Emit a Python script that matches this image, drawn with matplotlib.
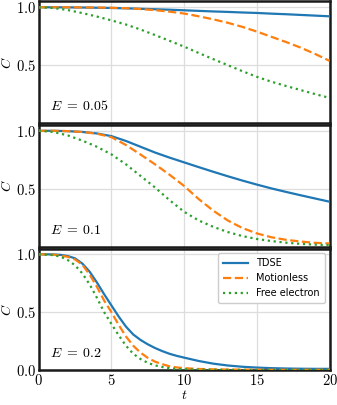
import matplotlib
matplotlib.use("Agg")
import matplotlib.pyplot as plt
from matplotlib.ticker import FixedLocator, FuncFormatter

plt.rcParams['mathtext.fontset'] = 'cm'

# ---------------- data ----------------
t_a = [0, 1, 2, 3, 4, 5, 6, 7, 8, 9, 10, 11, 12, 13, 14, 15, 16, 17, 18, 19, 20]

# E = 0.05
tdse_005 = [1.0, 1.0, 0.999, 0.998, 0.996, 0.994, 0.991, 0.987, 0.983, 0.979, 0.974,
            0.969, 0.964, 0.960, 0.955, 0.951, 0.945, 0.940, 0.934, 0.928, 0.922]
motion_005 = [1.0, 1.0, 1.0, 0.999, 0.998, 0.996, 0.992, 0.985, 0.975, 0.962, 0.946,
              0.922, 0.896, 0.866, 0.831, 0.790, 0.745, 0.700, 0.652, 0.597, 0.537]
free_005 = [1.0, 0.994, 0.976, 0.950, 0.920, 0.887, 0.851, 0.808, 0.76, 0.71, 0.66,
            0.605, 0.552, 0.50, 0.448, 0.399, 0.357, 0.32, 0.285, 0.25, 0.217]

# E = 0.1
tdse_01 = [1.0, 1.0, 0.997, 0.99, 0.977, 0.954, 0.912, 0.862, 0.812, 0.768, 0.727,
           0.686, 0.646, 0.607, 0.57, 0.535, 0.502, 0.472, 0.443, 0.415, 0.387]
motion_01 = [1.0, 1.0, 0.997, 0.99, 0.975, 0.945, 0.877, 0.795, 0.71, 0.62, 0.523,
             0.41, 0.31, 0.225, 0.16, 0.113, 0.08, 0.058, 0.043, 0.032, 0.026]
free_01 = [1.0, 0.99, 0.96, 0.915, 0.862, 0.796, 0.71, 0.61, 0.51, 0.40, 0.30,
           0.225, 0.17, 0.125, 0.09, 0.065, 0.047, 0.033, 0.023, 0.016, 0.012]

# E = 0.2
t_b = [0, 1, 1.5, 2, 2.5, 3, 3.5, 4, 4.5, 5, 5.5, 6, 6.5, 7, 7.5, 8, 8.5, 9, 9.5, 10,
       11, 12, 13, 14, 15, 16, 17, 18, 19, 20]
tdse_02 = [1.0, 0.999, 0.995, 0.985, 0.965, 0.92, 0.85, 0.757, 0.655, 0.558, 0.462, 0.375,
           0.307, 0.26, 0.222, 0.19, 0.163, 0.14, 0.122, 0.107, 0.078, 0.055, 0.039,
           0.028, 0.021, 0.016, 0.013, 0.011, 0.01, 0.01]
motion_02 = [1.0, 0.997, 0.99, 0.978, 0.955, 0.91, 0.825, 0.72, 0.60, 0.50, 0.39, 0.29,
             0.21, 0.15, 0.105, 0.072, 0.05, 0.032, 0.022, 0.016, 0.009, 0.006, 0.004,
             0.003, 0.003, 0.002, 0.002, 0.002, 0.002, 0.002]
free_02 = [1.0, 0.993, 0.98, 0.95, 0.905, 0.835, 0.74, 0.625, 0.50, 0.398, 0.30, 0.21,
           0.14, 0.095, 0.062, 0.04, 0.026, 0.015, 0.009, 0.006, 0.003, 0.002, 0.001,
           0.001, 0.0, 0.0, 0.0, 0.0, 0.0, 0.0]

field_labels = [r'$E\;=\;0.05$', r'$E\;=\;0.1$', r'$E\;=\;0.2$']
series_names = ['TDSE', 'Motionless', 'Free electron']
x_ticks = [0, 5, 10, 15, 20]

panels = [
    (t_a, tdse_005, motion_005, free_005),
    (t_a, tdse_01, motion_01, free_01),
    (t_b, tdse_02, motion_02, free_02),
]

# ---------------- plot ----------------
fig, axes = plt.subplots(3, 1, figsize=(3.37, 4.05), dpi=100, sharex=True)
fig.subplots_adjust(left=0.1148, right=0.978, bottom=0.0864, top=0.9963, hspace=0.0165)

colors = ['#1f77b4', '#ff7f0e', '#2ca02c']
styles = ['-', '--', ':']

for i, (ax, (t, a, b, c), lab) in enumerate(zip(axes, panels, field_labels)):
    for ys, col, ls, name in zip((a, b, c), colors, styles, series_names):
        ax.plot(t, ys, color=col, ls=ls, lw=1.6, label=name, zorder=3)
    ax.set_xlim(0, 20)
    ax.set_ylim(0, 1.05)
    if i < 2:
        ax.yaxis.set_major_locator(FixedLocator([0.5, 1.0]))
    else:
        ax.yaxis.set_major_locator(FixedLocator([0.0, 0.5, 1.0]))
    ax.xaxis.set_major_locator(FixedLocator(x_ticks))
    fmt_y = FuncFormatter(lambda v, p: f'${v:.1f}$')
    fmt_x = FuncFormatter(lambda v, p: f'${v:.0f}$')
    ax.yaxis.set_major_formatter(fmt_y)
    ax.xaxis.set_major_formatter(fmt_x)
    ax.tick_params(axis='both', length=0, labelsize=10.5, pad=2)
    ax.grid(True, color='#dddddd', lw=0.9, zorder=0)
    ax.set_axisbelow(True)
    for sp in ax.spines.values():
        sp.set_linewidth(1.8)
        sp.set_color('#1a1a1a')
    ax.set_ylabel('$C$', fontsize=10, labelpad=1)
    ax.text(0.04, 0.08, lab, transform=ax.transAxes, fontsize=10,
            ha='left', va='bottom')

axes[2].set_xlabel('$t$', fontsize=10, labelpad=0)
axes[2].legend(loc='upper right', prop={'family': 'DejaVu Sans', 'size': 7},
               handlelength=2.6, framealpha=1, edgecolor='#cccccc',
               fancybox=True, borderpad=0.5, labelspacing=0.5)

fig.savefig('out.png', dpi=100)
